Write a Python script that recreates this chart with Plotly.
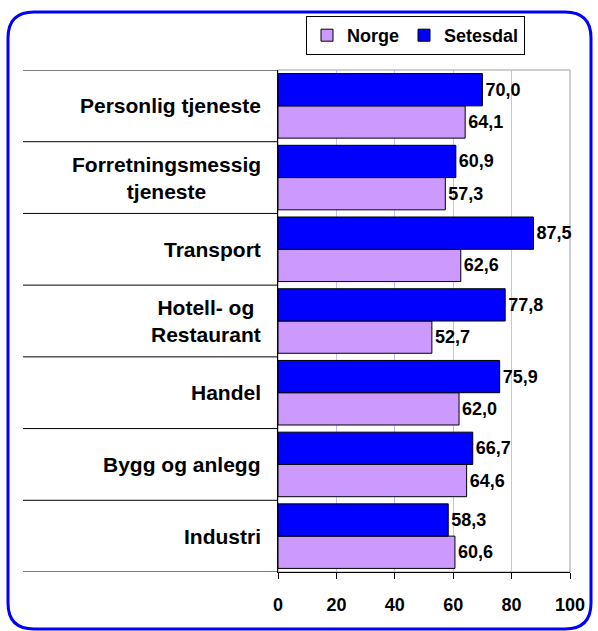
import plotly.graph_objects as go

# Data (top-to-bottom as shown in the chart)
categories = ["Personlig tjeneste", "Forretningsmessig<br>tjeneste", "Transport",
              "Hotell- og<br>Restaurant", "Handel", "Bygg og anlegg", "Industri"]
norge = [64.1, 57.3, 62.6, 52.7, 62.0, 64.6, 60.6]
setesdal = [70.0, 60.9, 87.5, 77.8, 75.9, 66.7, 58.3]
x_ticks = [0, 20, 40, 60, 80, 100]

# plotting order bottom-to-top
cats = categories[::-1]
nor = norge[::-1]
set_ = setesdal[::-1]
ypos = list(range(len(cats)))

W, H = 598, 631
L, R, T, B = 278, 570, 70, 572
PW, PH = R - L, B - T

def px(x):
    return (x - L) / PW

def py(y):
    return (B - y) / PH

FONT = "Arial, Liberation Sans, sans-serif"

fig = go.Figure()
for name, vals, col in [("Norge", nor, "#CC99FF"), ("Setesdal", set_, "#0000FF")]:
    fig.add_trace(go.Bar(
        name=name, y=ypos, x=vals, orientation="h",
        marker=dict(color=col, line=dict(color="black", width=1)),
        texttemplate="%{x:.1f}", textposition="outside",
        textfont=dict(family=FONT, size=18, color="black", weight="bold"),
        cliponaxis=False,
    ))

shapes = []
# plot area border (gray)
shapes.append(dict(type="rect", xref="paper", yref="paper", x0=0, x1=1, y0=0, y1=1,
                   line=dict(color="#A0A0A8", width=1), layer="below"))
# category separator lines extending into the label area
for i in range(len(cats) + 1):
    shapes.append(dict(type="line", xref="paper", yref="y", x0=px(23), x1=0,
                       y0=i - 0.5, y1=i - 0.5, line=dict(color="black", width=1)))
# outer rounded blue border
x0, y0, x1, y1, r = 8, 12, 591, 629, 26
path = (f"M {px(x0 + r)},{py(y0)} L {px(x1 - r)},{py(y0)} "
        f"Q {px(x1)},{py(y0)} {px(x1)},{py(y0 + r)} "
        f"L {px(x1)},{py(y1 - r)} Q {px(x1)},{py(y1)} {px(x1 - r)},{py(y1)} "
        f"L {px(x0 + r)},{py(y1)} Q {px(x0)},{py(y1)} {px(x0)},{py(y1 - r)} "
        f"L {px(x0)},{py(y0 + r)} Q {px(x0)},{py(y0)} {px(x0 + r)},{py(y0)} Z")
shapes.append(dict(type="path", xref="paper", yref="paper", path=path,
                   line=dict(color="#0000FF", width=3)))

annotations = []
for i, c in enumerate(cats):
    annotations.append(dict(x=px(263), xref="paper", y=i, yref="y", text=c,
                            showarrow=False, xanchor="right", align="center",
                            font=dict(family=FONT, size=21, color="black", weight="bold")))

fig.update_layout(
    width=W, height=H,
    margin=dict(l=L, r=W - R, t=T, b=H - B),
    paper_bgcolor="white", plot_bgcolor="white",
    barmode="group", bargap=0.1, bargroupgap=0,
    separators=",.",
    font=dict(family=FONT, color="black"),
    shapes=shapes, annotations=annotations,
    showlegend=True,
    legend=dict(orientation="h", x=px(306), y=py(16), xanchor="left", yanchor="top",
                bordercolor="black", borderwidth=1, bgcolor="white",
                font=dict(family=FONT, size=18, color="black", weight="bold"),
                traceorder="normal", itemwidth=30),
    xaxis=dict(range=[0, 100], tickvals=x_ticks,
               tickfont=dict(family=FONT, size=18, color="black", weight="bold"),
               showgrid=True, gridcolor="#C0C0FF", gridwidth=1,
               showline=True, linecolor="black", linewidth=1,
               ticks="outside", ticklen=6, tickcolor="black",
               zeroline=False, fixedrange=True, ticklabelstandoff=10),
    yaxis=dict(range=[-0.5, len(cats) - 0.5], showticklabels=False, showgrid=False,
               showline=True, linecolor="black", linewidth=1, zeroline=False,
               ticks="", fixedrange=True),
)

fig.write_html("out.html", config={"displayModeBar": False})
with open("out.html", "r", encoding="utf-8") as f:
    html = f.read()
html = html.replace("<head>", "<head><style>html,body{margin:0;padding:0;overflow:hidden}</style>", 1)
with open("out.html", "w", encoding="utf-8") as f:
    f.write(html)
